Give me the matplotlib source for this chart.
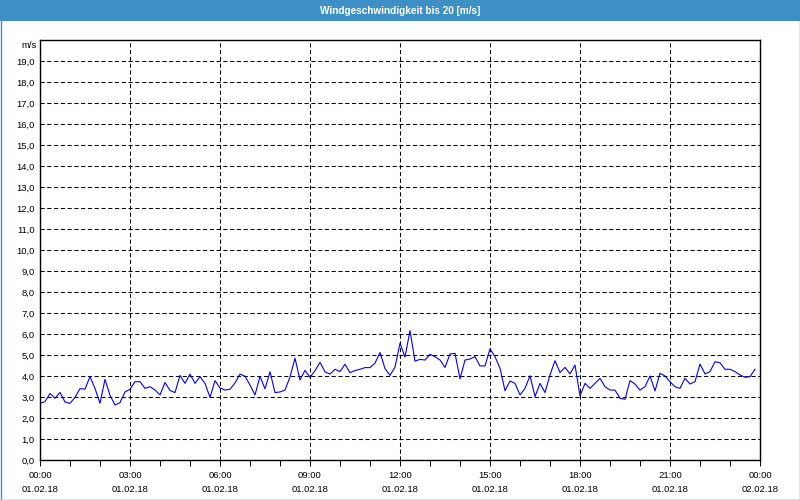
import matplotlib
matplotlib.use('Agg')
import matplotlib.pyplot as plt
import matplotlib.dates as mdates
from matplotlib.patches import Rectangle
import pandas as pd

# wind speed, 10 min values, 01.02.18 00:00 - 23:50
speed = [2.70, 2.78, 3.17, 2.94, 3.22, 2.76, 2.70, 2.98, 3.40, 3.37,
         3.97, 3.41, 2.70, 3.84, 3.08, 2.62, 2.73, 3.24, 3.37, 3.73,
         3.73, 3.41, 3.49, 3.33, 3.10, 3.69, 3.31, 3.21, 4.03, 3.65,
         4.09, 3.65, 3.97, 3.65, 2.98, 3.78, 3.43, 3.33, 3.37, 3.67,
         4.09, 3.99, 3.57, 3.10, 3.98, 3.39, 4.20, 3.21, 3.24, 3.33,
         3.95, 4.85, 3.81, 4.27, 3.94, 4.25, 4.65, 4.20, 4.09, 4.32,
         4.21, 4.56, 4.16, 4.26, 4.32, 4.40, 4.40, 4.61, 5.12, 4.35,
         4.03, 4.42, 5.56, 4.90, 6.16, 4.71, 4.79, 4.76, 5.03, 4.92,
         4.76, 4.41, 5.05, 5.08, 3.86, 4.76, 4.81, 4.92, 4.48, 4.48,
         5.29, 4.92, 4.37, 3.30, 3.76, 3.65, 3.10, 3.41, 4.01, 3.02,
         3.65, 3.21, 4.05, 4.73, 4.17, 4.41, 4.10, 4.52, 3.05, 3.65,
         3.41, 3.65, 3.89, 3.49, 3.33, 3.33, 2.94, 2.89, 3.78, 3.62,
         3.33, 3.49, 4.00, 3.29, 4.13, 4.00, 3.73, 3.49, 3.41, 3.89,
         3.62, 3.73, 4.57, 4.10, 4.21, 4.68, 4.63, 4.32, 4.32, 4.21,
         4.05, 3.94, 3.97, 4.32]
times = pd.date_range('2018-02-01 00:00', periods=len(speed), freq='10min')

title = 'Windgeschwindigkeit bis 20 [m/s]'
unit = 'm/s'
yticks = list(range(20))
ylabels = [f'{v:.1f}'.replace('.', ',') for v in yticks]
xticks = pd.date_range('2018-02-01 00:00', '2018-02-02 00:00', freq='3h')
xlabels = [t.strftime('%H:%M') + '\n' + t.strftime('%d.%m.%y') for t in xticks]

blue = '#3d8fc6'
plt.rcParams['font.family'] = ['Liberation Sans', 'DejaVu Sans']

fig = plt.figure(figsize=(8, 5), dpi=100)
fig.patch.set_facecolor('white')
fig.patches.append(Rectangle((0, 1 - 21 / 500), 1, 21 / 500, transform=fig.transFigure,
                             facecolor=blue, edgecolor='none', zorder=0))
fig.patches.append(Rectangle((0.5 / 800, 0.5 / 500), 799 / 800, 499 / 500, transform=fig.transFigure,
                             facecolor='none', edgecolor=blue, linewidth=1, zorder=1))
fig.text(0.5, 1 - 10.5 / 500, title, color='white', ha='center', va='center',
         fontsize=7.2, fontweight='bold')

ax = fig.add_axes([40 / 800, 40 / 500, 720 / 800, 420 / 500])
ax.plot(times, speed, color='#0000ff', linewidth=0.8)

ax.set_ylim(0, 20)
ax.set_xlim(xticks[0], xticks[-1])
ax.set_yticks(yticks)
ax.set_yticklabels(ylabels)
ax.set_xticks(xticks)
ax.set_xticklabels(xlabels, linespacing=1.75)
ax.xaxis.set_minor_locator(mdates.HourLocator())
ax.tick_params(axis='y', length=0, pad=4, labelsize=6.8)
ax.tick_params(axis='x', which='both', length=4, width=0.7, pad=4, labelsize=6.8)
ax.text(-0.004, 0.988, unit, transform=ax.transAxes, ha='right', va='center', fontsize=6.8)

ax.grid(True, which='major', color='black', linestyle=(0, (4, 2.5)), linewidth=0.75)
for s in ax.spines.values():
    s.set_linewidth(1.0)
    s.set_color('black')

fig.savefig('out.png', dpi=100, facecolor='white')
